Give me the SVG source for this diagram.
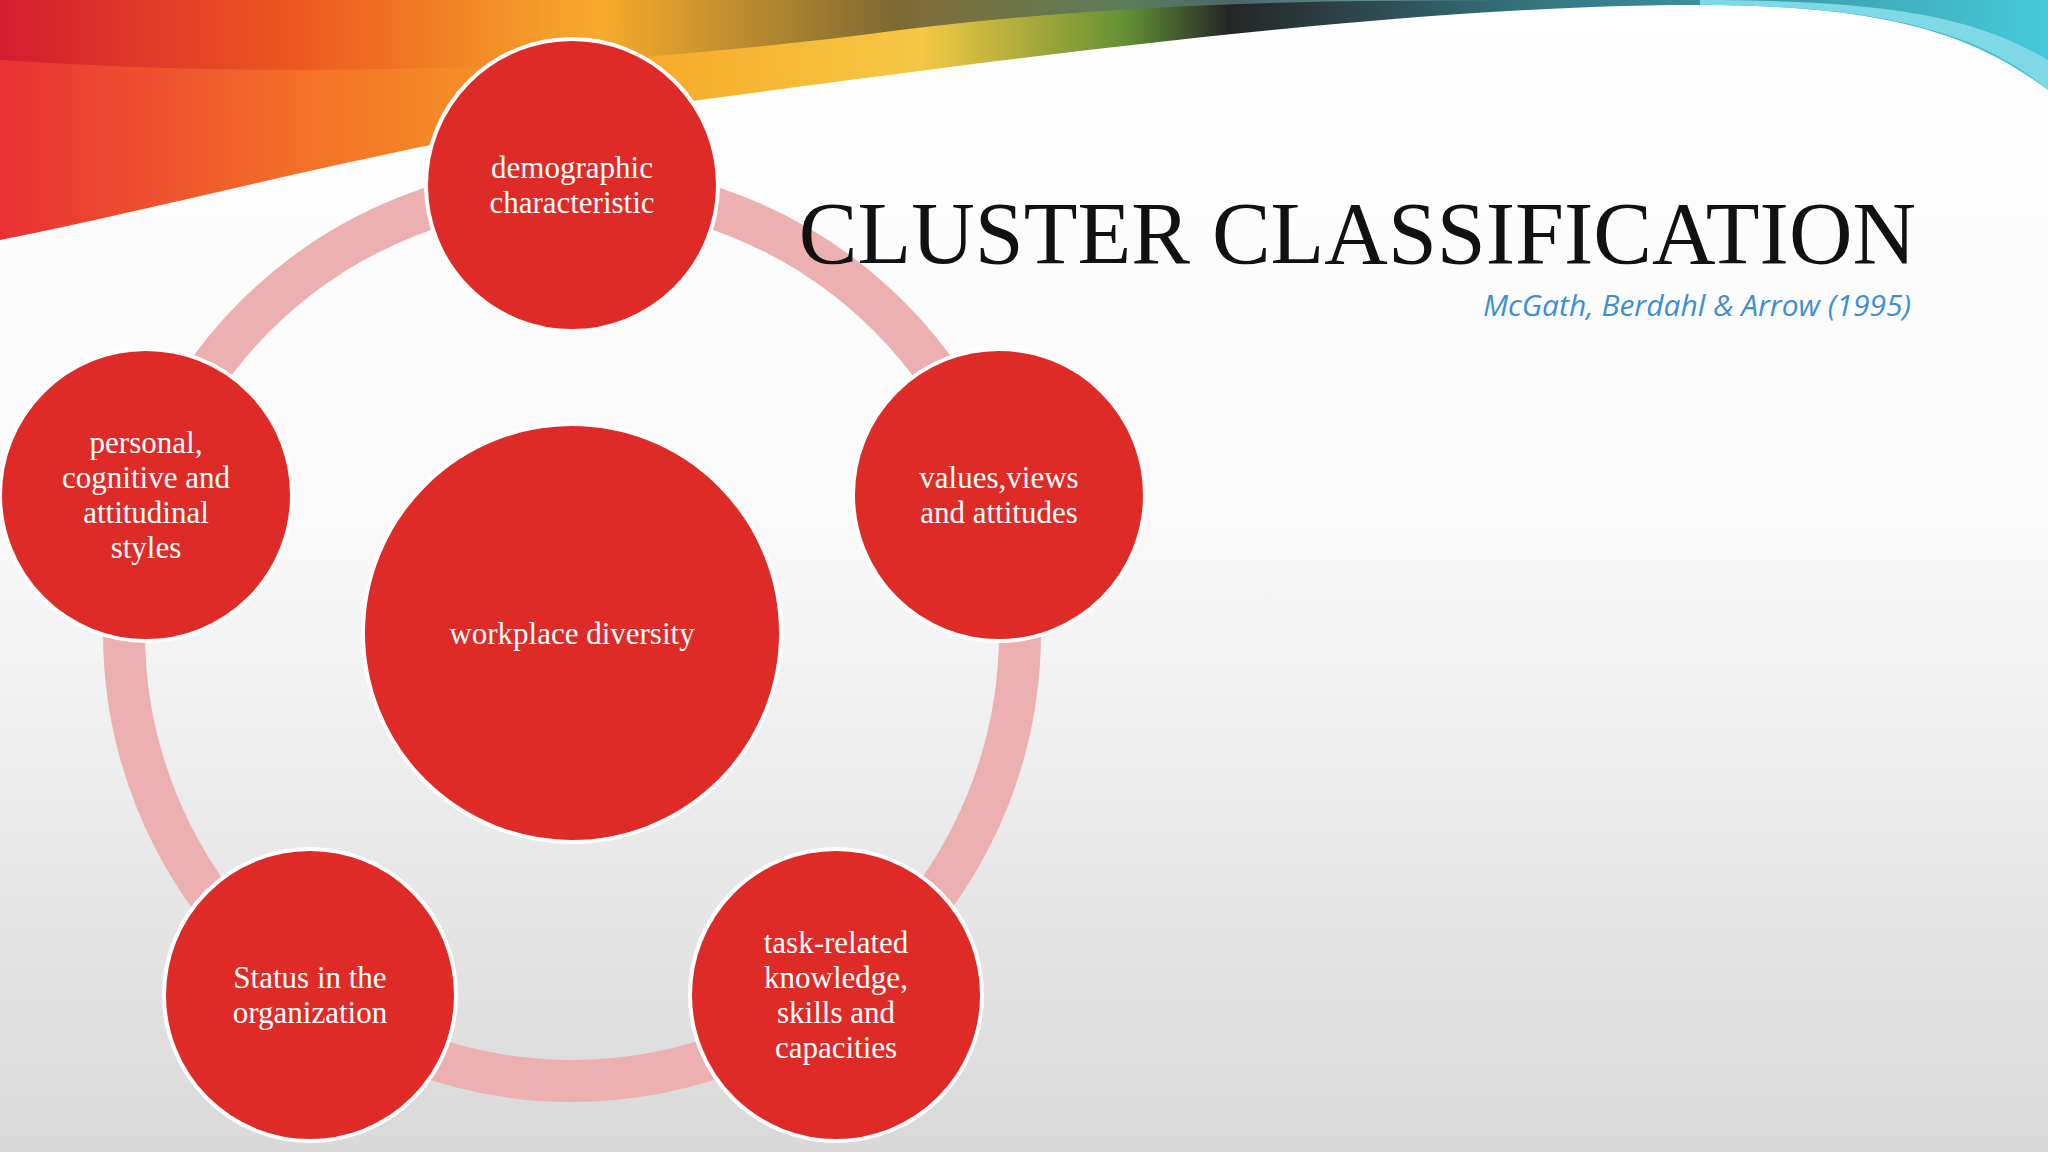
<svg xmlns="http://www.w3.org/2000/svg" width="2048" height="1152" viewBox="0 0 2048 1152">
<defs>
<linearGradient id="bg" x1="0" y1="0" x2="0" y2="1"><stop offset="0" stop-color="#ffffff"/><stop offset="0.45" stop-color="#fafafa"/><stop offset="1" stop-color="#d9d9d9"/></linearGradient>
<linearGradient id="rb" x1="0" y1="0" x2="1" y2="0"><stop offset="0" stop-color="#e8262a"/><stop offset="0.15" stop-color="#f26a1c"/><stop offset="0.3" stop-color="#f7a21b"/><stop offset="0.45" stop-color="#f5c53a"/><stop offset="0.55" stop-color="#5a8a2a"/><stop offset="0.6" stop-color="#1a1a1a"/><stop offset="0.75" stop-color="#2a6f7a"/><stop offset="1" stop-color="#3cc6d8"/></linearGradient>
<linearGradient id="rb2" x1="0" y1="0" x2="1" y2="0"><stop offset="0" stop-color="#c8102e"/><stop offset="0.2" stop-color="#e84a1a"/><stop offset="0.4" stop-color="#f7b030"/><stop offset="0.6" stop-color="#2a2a2a"/><stop offset="1" stop-color="#9fe6ee"/></linearGradient>
<style>
.sat{fill:#df2b27;stroke:#ffffff;stroke-width:4}
.t{font-family:"Liberation Serif",serif;font-size:31px;fill:#ffffff;text-anchor:middle}
</style>
</defs>
<rect width="2048" height="1152" fill="url(#bg)"/>
<g id="swoosh">
<path d="M0 0 H2048 V90 C1980 40 1900 5 1700 5 C1400 5 1000 60 700 100 C450 130 200 200 0 240 Z" fill="url(#rb)" opacity="0.95"/>
<path d="M0 60 C300 80 600 70 900 30 C1100 5 1300 0 1500 0 H0 Z" fill="url(#rb2)" opacity="0.6"/>
<path d="M1700 5 C1900 5 1990 40 2048 90 V60 C1980 20 1900 0 1700 0 Z" fill="#7fd8e6"/>
</g>
<g id="connectors">
<circle cx="572" cy="633" r="448" fill="none" stroke="#ecb0b0" stroke-width="42"/>
</g>
<g id="center"><circle cx="572" cy="633" r="209" class="sat" stroke="none"/><text class="t" x="572" y="644">workplace diversity</text></g>
<g id="n1"><circle cx="572" cy="185" r="146" class="sat"/><text class="t" x="572" y="178">demographic</text><text class="t" x="572" y="213">characteristic</text></g>
<g id="n2"><circle cx="999" cy="495" r="146" class="sat"/><text class="t" x="999" y="488">values,views</text><text class="t" x="999" y="523">and attitudes</text></g>
<g id="n3"><circle cx="836" cy="995" r="146" class="sat"/><text class="t" x="836" y="953">task-related</text><text class="t" x="836" y="988">knowledge,</text><text class="t" x="836" y="1023">skills and</text><text class="t" x="836" y="1058">capacities</text></g>
<g id="n4"><circle cx="310" cy="995" r="146" class="sat"/><text class="t" x="310" y="988">Status in the</text><text class="t" x="310" y="1023">organization</text></g>
<g id="n5"><circle cx="146" cy="495" r="146" class="sat"/><text class="t" x="146" y="453">personal,</text><text class="t" x="146" y="488">cognitive and</text><text class="t" x="146" y="523">attitudinal</text><text class="t" x="146" y="558">styles</text></g>
<g id="title">
<text x="1916" y="263" text-anchor="end" font-family="Liberation Serif,serif" font-size="88" fill="#111">CLUSTER CLASSIFICATION</text>
<text x="1911" y="316" text-anchor="end" font-family="Open Sans,sans-serif" font-style="italic" font-size="30" fill="#3d8fd1">McGath, Berdahl &amp; Arrow (1995)</text>
</g>
</svg>
